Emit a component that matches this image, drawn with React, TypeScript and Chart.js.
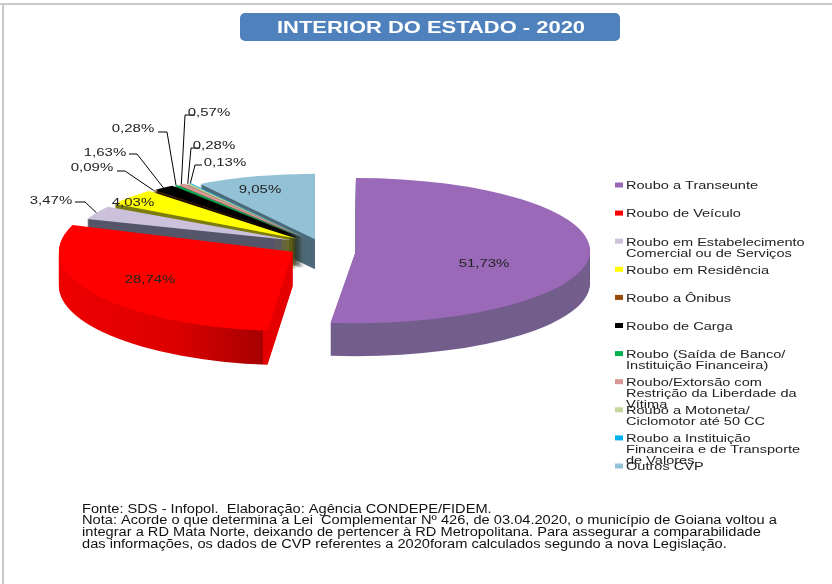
import React, { useEffect, useRef } from "react";
import { Chart, registerables } from "chart.js";

Chart.register(...registerables);

const titleText = "INTERIOR DO ESTADO - 2020";
const categories: string[][] = [
  ["Roubo a Transeunte"],
  ["Roubo de Veículo"],
  ["Roubo em Estabelecimento", "Comercial ou de Serviços"],
  ["Roubo em Residência"],
  ["Roubo a Ônibus"],
  ["Roubo de Carga"],
  ["Roubo (Saída de Banco/", "Instituição Financeira)"],
  ["Roubo/Extorsão com", "Restrição da Liberdade da", "Vítima"],
  ["Roubo a Motoneta/", "Ciclomotor até 50 CC"],
  ["Roubo a Instituição", "Financeira e de Transporte", "de Valores"],
  ["Outros CVP"],
];
const values = [51.73, 28.74, 3.47, 4.03, 0.09, 1.63, 0.28, 0.57, 0.28, 0.13, 9.05];
const valueLabels = ["51,73%", "28,74%", "3,47%", "4,03%", "0,09%", "1,63%", "0,28%", "0,57%", "0,28%", "0,13%", "9,05%"];
const colors = ["#9a69b8", "#ff0000", "#ccc1da", "#ffff00", "#984807", "#000000", "#00b050", "#d99694", "#c3d69b", "#00b0f0", "#93c2d6"];
const footnotes = [
  "Fonte: SDS - Infopol.  Elaboração: Agência CONDEPE/FIDEM.",
  "Nota: Acorde o que determina a Lei  Complementar Nº 426, de 03.04.2020, o município de Goiana voltou a",
  "integrar a RD Mata Norte, deixando de pertencer à RD Metropolitana. Para assegurar a comparabilidade",
  "das informações, os dados de CVP referentes a 2020foram calculados segundo a nova Legislação.",
];

// Styling of the tilted, exploded pie (per slice)
const explode = [36, 32, 31, 30, 28, 28, 26, 26, 24, 24, 18];
const tiltY = [0.31, 0.34, 0.27, 0.28, 0.28, 0.28, 0.28, 0.28, 0.28, 0.28, 0.28];
const scaleX = [1, 1, 0.93, 0.92, 0.92, 0.92, 0.92, 0.92, 0.92, 0.92, 0.91];
const drop = [6, 2, 0, 0, 0, 0, 0, 0, 0, 0, 0];
const depth = [33, 34, 30, 30, 30, 30, 30, 30, 30, 30, 30];
const sideColors: (string | [number, string][])[] = [
  "#735e8c",
  [[0, "#ee0000"], [0.25, "#dc0000"], [0.436, "#a60000"], [0.437, "#e40000"], [1, "#e40000"]],
  "#56566a",
  "#7d7d10",
  "#4a2404",
  "#000000",
  "#005c2a",
  "#7d5654",
  "#72805a",
  "#005a80",
  "#4d6a79",
];
const labelPos: [number, number][] = [[484, 263], [150, 279], [51, 200], [133, 202], [92, 167], [105, 152], [133, 128], [209, 112], [214, 145], [225, 162], [260, 189]];
const elbows: ([number, number][] | null)[] = [
  null, null,
  [[75, 202], [85, 202]],
  null,
  [[117, 171], [125, 171]],
  [[129, 154], [137, 154]],
  [[158, 132], [167, 132]],
  [[195, 115], [185, 115]],
  [[200, 148], [191, 148]],
  [[202, 165], [195, 165]],
  null,
];

function stretchedText(ctx: CanvasRenderingContext2D, text: string, x: number, y: number, font: string, sx: number, align: CanvasTextAlign, color: string) {
  ctx.save();
  ctx.font = font;
  ctx.fillStyle = color;
  ctx.textAlign = align;
  ctx.textBaseline = "middle";
  ctx.translate(x, y + 1.2);
  ctx.scale(sx, 1);
  ctx.fillText(text, 0, 0);
  ctx.restore();
}

function sliceOrigin(arc: any, i: number) {
  const mid = (arc.startAngle + arc.endAngle) / 2;
  return {
    mid,
    ox: arc.x + Math.cos(mid) * explode[i],
    oy: arc.y + Math.sin(mid) * explode[i] * tiltY[i] + drop[i],
  };
}

const tiltedPie = {
  id: "tiltedPie",
  beforeDatasetsDraw(chart: any) {
    const ctx: CanvasRenderingContext2D = chart.ctx;
    const arcs = chart.getDatasetMeta(0).data;
    for (let i = arcs.length - 1; i >= 0; i--) {
      const arc = arcs[i];
      const { ox, oy } = sliceOrigin(arc, i);
      const R = arc.outerRadius;
      const side = sideColors[i];
      let fill: string | CanvasGradient;
      if (typeof side === "string") {
        fill = side;
      } else {
        const g = ctx.createLinearGradient(-R, 0, R, 0);
        side.forEach(([p, c]) => g.addColorStop(p, c));
        fill = g;
      }
      for (let d = depth[i]; d >= 1; d--) {
        ctx.save();
        ctx.translate(ox, oy + d);
        ctx.scale(scaleX[i], tiltY[i]);
        ctx.beginPath();
        ctx.moveTo(0, 0);
        ctx.arc(0, 0, R, arc.startAngle, arc.endAngle);
        ctx.closePath();
        ctx.fillStyle = fill;
        ctx.fill();
        ctx.restore();
      }
      ctx.save();
      ctx.translate(ox, oy);
      ctx.scale(scaleX[i], tiltY[i]);
      ctx.translate(-arc.x, -arc.y);
      arc.draw(ctx);
      ctx.restore();
    }
    return false;
  },
  afterDraw(chart: any) {
    const ctx: CanvasRenderingContext2D = chart.ctx;
    const arcs = chart.getDatasetMeta(0).data;
    const font = "11.5px 'Liberation Sans'";
    const textColor = "#222222";

    // title box
    ctx.fillStyle = "#4f81bd";
    ctx.beginPath();
    ctx.roundRect(240, 13, 380, 28, 5);
    ctx.fill();
    stretchedText(ctx, titleText, 431, 27, "bold 16.5px 'Liberation Sans'", 1.33, "center", "#ffffff");

    // leader lines and value labels
    ctx.strokeStyle = "#000000";
    ctx.lineWidth = 1;
    arcs.forEach((arc: any, i: number) => {
      const path = elbows[i];
      if (path) {
        const { mid, ox, oy } = sliceOrigin(arc, i);
        const rx = ox + Math.cos(mid) * arc.outerRadius * scaleX[i];
        const ry = oy + Math.sin(mid) * arc.outerRadius * tiltY[i];
        ctx.beginPath();
        ctx.moveTo(path[0][0], path[0][1]);
        ctx.lineTo(path[1][0], path[1][1]);
        ctx.lineTo(rx, ry);
        ctx.stroke();
      }
      stretchedText(ctx, valueLabels[i], labelPos[i][0], labelPos[i][1], font, 1.3, "center", textColor);
    });

    // legend
    categories.forEach((lines, i) => {
      const y = 185 + i * 28.1;
      ctx.fillStyle = colors[i];
      ctx.fillRect(615, y - 2.5, 8, 5);
      lines.forEach((line, j) => {
        stretchedText(ctx, line, 626, y + j * 11, font, 1.265, "left", textColor);
      });
    });

    // footnote
    footnotes.forEach((line, i) => {
      stretchedText(ctx, line, 82, 508 + i * 11.7, "12.5px 'Liberation Sans'", 1.17, "left", "#111111");
    });
  },
};

export default function App() {
  const ref = useRef<HTMLCanvasElement>(null);
  useEffect(() => {
    if (!ref.current) return;
    const chart = new Chart(ref.current, {
      type: "pie",
      data: {
        labels: categories,
        datasets: [{ data: values, backgroundColor: colors, borderWidth: 0 }],
      },
      options: {
        animation: false,
        responsive: false,
        radius: 234,
        layout: { padding: { left: 0, right: 192, top: 0, bottom: 96 } },
        plugins: { legend: { display: false }, tooltip: { enabled: false }, title: { display: false } },
      } as any,
      plugins: [tiltedPie],
    });
    return () => chart.destroy();
  }, []);
  return (
    <div style={{ position: "absolute", left: 0, top: 0, width: 832, height: 584, background: "#ffffff", overflow: "hidden" }}>
      <canvas ref={ref} width={832} height={584} style={{ display: "block" }} />
      <div style={{ position: "absolute", left: 0, top: 3, width: 832, height: 2, background: "#c8c8c8" }} />
      <div style={{ position: "absolute", left: 2, top: 3, width: 2, height: 581, background: "#c8c8c8" }} />
    </div>
  );
}
